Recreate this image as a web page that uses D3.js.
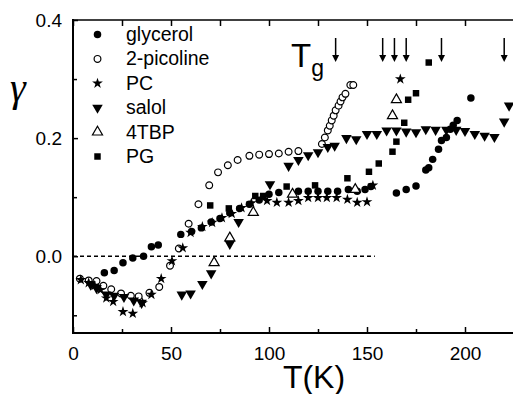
<!DOCTYPE html>
<html><head><meta charset="utf-8">
<script src="https://cdn.jsdelivr.net/npm/d3@7"></script>
<style>html,body{margin:0;padding:0;background:#fff;overflow:hidden}</style>
</head><body><svg id="c" width="513" height="394"></svg>
<script>
// ---- data ----
const glycerolT = [16,21,25.5,30.5,36,40,43.5,55,60.5,65.5,70.5,75,80,85,90,95,100,105,115,120,125,130,135,140.5,145,149,152,165,170,175,180,181.5,183.5,186.5,188,190.5,192.5,194,196,203];
const glycerolG = [-0.028,-0.024,-0.011,-0.003,0,0.016,0.019,0.037,0.042,0.048,0.058,0.064,0.073,0.081,0.088,0.095,0.105,0.108,0.11,0.11,0.11,0.11,0.11,0.113,0.11,0.113,0.118,0.107,0.113,0.119,0.146,0.15,0.164,0.181,0.196,0.201,0.215,0.222,0.23,0.268];
const picolineT = [3.5,8,12,15.5,19.5,24.5,29.5,33.5,39,44,49.5,54,59,64,69.5,74,79,84,90,95,100,105,110,115,127,128.5,130,131,132,133,134,135.5,136.5,137.5,139,141.5,143];
const picolineG = [-0.038,-0.041,-0.042,-0.05,-0.056,-0.063,-0.067,-0.068,-0.062,-0.052,-0.016,0.013,0.055,0.088,0.12,0.142,0.154,0.163,0.17,0.172,0.173,0.174,0.177,0.178,0.19,0.201,0.213,0.221,0.23,0.238,0.247,0.255,0.262,0.269,0.275,0.29,0.29];
const pcT = [4,8,11,14,17,20.5,25.5,30.5,35.5,40,45,50.5,56,60,66,71,76,81,86,91,99,104,110,115,120,125,129.5,134.5,140,145,150,153,167];
const pcG = [-0.04,-0.045,-0.05,-0.057,-0.071,-0.077,-0.094,-0.097,-0.079,-0.065,-0.038,-0.008,0.014,0.04,0.05,0.057,0.065,0.072,0.082,0.09,0.094,0.091,0.091,0.094,0.099,0.099,0.099,0.099,0.096,0.091,0.092,0.12,0.3];
const salolT = [9,12,17,21,26,31,35,55.5,60,66,70.5,80,84.5,100.5,110,115,120,125,130,133.5,139.5,144.5,150,155,160,165,170,175,180,185,190.5,195.5,200,205,210,215,220,222.5];
const salolG = [-0.048,-0.054,-0.065,-0.067,-0.069,-0.075,-0.079,-0.065,-0.063,-0.047,-0.029,0.021,0.058,0.122,0.153,0.163,0.171,0.176,0.185,0.187,0.2,0.198,0.207,0.207,0.213,0.213,0.211,0.21,0.215,0.214,0.214,0.214,0.212,0.207,0.204,0.202,0.228,0.255];
const tbpT = [72,80,92,112,144,163,165];
const tbpG = [-0.011,0.031,0.074,0.105,0.113,0.238,0.265];
const pgT = [70,79.5,93,97,109,123.5,140,151,156,163,165,169,171,175,181.5];
const pgG = [0.086,0.081,0.102,0.102,0.118,0.12,0.132,0.143,0.157,0.177,0.194,0.226,0.265,0.276,0.328];
const seriesNames = ["glycerol","2-picoline","PC","salol","4TBP","PG"];
const tgArrows = [134,158,164,170,188,220];
const xTicks = [0,50,100,150,200];
const xMinor = [25,75,125,175,225];
const yTicks = [0.0,0.2,0.4];
const yMinor = [-0.1,0.1,0.3];

// ---- chart ----
const svg = d3.select("#c");
const x = d3.scaleLinear().domain([0,225]).range([73,514]);
const y = d3.scaleLinear().domain([-0.13,0.4]).range([333,20]);
const font = "'Liberation Sans', Arial, sans-serif";

// frame
const g = svg.append("g");
g.append("line").attr("x1",73).attr("x2",73).attr("y1",19).attr("y2",334).attr("stroke","#000").attr("stroke-width",2);
g.append("line").attr("x1",72).attr("x2",513).attr("y1",333).attr("y2",333).attr("stroke","#000").attr("stroke-width",2);
g.append("line").attr("x1",72).attr("x2",513).attr("y1",20).attr("y2",20).attr("stroke","#000").attr("stroke-width",1.5);

// axes via d3
const xAxisB = d3.axisBottom(x).tickValues(xTicks).tickSize(-6).tickPadding(14).tickFormat(d3.format("d"));
const gxb = svg.append("g").attr("transform","translate(0,333)").call(xAxisB);
gxb.select(".domain").remove();
gxb.selectAll("text").attr("font-family",font).attr("font-size",19).attr("fill","#000");
gxb.selectAll("line").attr("stroke-width",1.5);
svg.append("g").attr("transform","translate(0,333)").call(d3.axisBottom(x).tickValues(xMinor).tickSize(-4).tickFormat(""))
  .call(s=>{s.select(".domain").remove(); s.selectAll("line").attr("stroke-width",1.5);});
svg.append("g").attr("transform","translate(0,20)").call(d3.axisTop(x).tickValues(xTicks.concat(xMinor)).tickSize(-6).tickFormat(""))
  .call(s=>{s.select(".domain").remove(); s.selectAll("line").attr("stroke-width",1.5);});

const gyl = svg.append("g").attr("transform","translate(73,0)").call(d3.axisLeft(y).tickValues(yTicks).tickSize(-5).tickPadding(11).tickFormat(d3.format(".1f")));
gyl.select(".domain").remove();
gyl.selectAll("text").attr("font-family",font).attr("font-size",19).attr("fill","#000");
gyl.selectAll("line").attr("stroke-width",1.5);
svg.append("g").attr("transform","translate(73,0)").call(d3.axisLeft(y).tickValues(yMinor).tickSize(-4).tickFormat(""))
  .call(s=>{s.select(".domain").remove(); s.selectAll("line").attr("stroke-width",1.5);});

// dashed zero line
svg.append("line").attr("x1",x(0)).attr("x2",x(154)).attr("y1",y(0)).attr("y2",y(0))
  .attr("stroke","#000").attr("stroke-width",1.5).attr("stroke-dasharray","4,3");

// symbols
const sym = {
  "glycerol": {type:d3.symbolCircle,size:44,fill:"#000",stroke:"none",rot:0},
  "2-picoline": {type:d3.symbolCircle,size:36,fill:"#fff",stroke:"#000",rot:0},
  "PC": {type:d3.symbolStar,size:36,fill:"#000",stroke:"none",rot:0},
  "salol": {type:d3.symbolTriangle,size:48,fill:"#000",stroke:"none",rot:180},
  "4TBP": {type:d3.symbolTriangle,size:44,fill:"#fff",stroke:"#000",rot:0},
  "PG": {type:d3.symbolSquare,size:42,fill:"#000",stroke:"none",rot:0}
};
const seriesData = {
  "glycerol": d3.zip(glycerolT,glycerolG),
  "2-picoline": d3.zip(picolineT,picolineG),
  "PC": d3.zip(pcT,pcG),
  "salol": d3.zip(salolT,salolG),
  "4TBP": d3.zip(tbpT,tbpG),
  "PG": d3.zip(pgT,pgG)
};
function drawSym(sel, s){
  sel.attr("d", d3.symbol().type(s.type).size(s.size)())
     .attr("fill", s.fill).attr("stroke", s.stroke).attr("stroke-width", 1.2);
}
seriesNames.forEach(name=>{
  const s = sym[name];
  svg.append("g").selectAll("path").data(seriesData[name]).join("path")
    .attr("transform", d=>`translate(${x(d[0])},${y(d[1])}) rotate(${s.rot})`)
    .call(drawSym, s);
});

// legend
const leg = svg.append("g");
seriesNames.forEach((name,i)=>{
  const yy = 34.5 + i*24.4;
  const s = sym[name];
  leg.append("path").attr("transform",`translate(97.5,${yy}) rotate(${s.rot})`).call(drawSym, s);
  leg.append("text").attr("x",126).attr("y",yy).attr("dy","0.33em")
    .attr("font-family",font).attr("font-size",19.5).text(name);
});

// gamma label
svg.append("text").attr("x",10).attr("y",101).attr("font-family","'Liberation Serif', 'Times New Roman', serif")
  .attr("font-style","italic").attr("font-size",40).text("γ");
// x title
svg.append("text").attr("x",314).attr("y",388).attr("text-anchor","middle").attr("font-family",font)
  .attr("font-size",32).text("T(K)");

// Tg label
const tg = svg.append("text").attr("x",291).attr("y",67).attr("font-family",font).attr("font-size",33);
tg.append("tspan").text("T");
tg.append("tspan").attr("font-size",23).attr("dy",9).text("g");

// arrows
tgArrows.forEach(t=>{
  const xx = x(t);
  svg.append("line").attr("x1",xx).attr("x2",xx).attr("y1",38).attr("y2",58).attr("stroke","#000").attr("stroke-width",1.5);
  svg.append("path").attr("d",`M${xx-3.5},55 L${xx+3.5},55 L${xx},62 Z`).attr("fill","#000");
});
</script></body></html>
